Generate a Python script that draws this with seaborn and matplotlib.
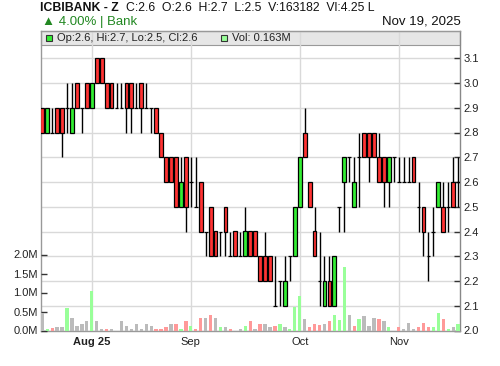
import numpy as np
import pandas as pd
import matplotlib
matplotlib.use("Agg")
import matplotlib.pyplot as plt
from matplotlib.patches import Rectangle
import seaborn as sns

# ---------------- data ----------------
opens = [2.9, 2.8, 2.8, 2.9, 2.9, 2.9, 2.8, 3.0, 2.9, 3.0,
         2.9, 3.1, 3.1, 3.0, 3.0, 2.9, 2.9, 3.0, 3.0, 2.9,
         3.0, 2.9, 2.9, 2.9, 2.8, 2.7, 2.7, 2.7, 2.5, 2.7,
         2.6, 2.5, 2.6, 2.4, 2.5, 2.4, 2.4, 2.5, 2.3, 2.4,
         2.3, 2.3, 2.4, 2.4, 2.3, 2.3, 2.3, 2.1, 2.2, 2.1,
         2.3, 2.3, 2.5, 2.8, 2.6, 2.4, 2.2, 2.1, 2.2, 2.1,
         2.5, 2.6, 2.7, 2.5, 2.7, 2.8, 2.8, 2.8, 2.7, 2.7,
         2.6, 2.7, 2.6, 2.6, 2.6, 2.7, 2.5, 2.5, 2.3, 2.4,
         2.5, 2.5, 2.5, 2.6, 2.6]
highs = [2.9, 2.9, 2.9, 2.9, 2.9, 3.0, 3.0, 3.0, 2.9, 3.0,
         3.0, 3.1, 3.1, 3.0, 3.0, 3.0, 3.0, 3.0, 3.0, 3.0,
         3.0, 3.0, 2.9, 2.9, 2.8, 2.7, 2.7, 2.7, 2.7, 2.7,
         2.7, 2.7, 2.6, 2.4, 2.5, 2.4, 2.4, 2.5, 2.4, 2.4,
         2.4, 2.5, 2.4, 2.4, 2.3, 2.4, 2.3, 2.3, 2.2, 2.3,
         2.3, 2.5, 2.7, 2.9, 2.6, 2.5, 2.4, 2.3, 2.3, 2.3,
         2.5, 2.7, 2.7, 2.7, 2.8, 2.8, 2.8, 2.8, 2.8, 2.7,
         2.7, 2.7, 2.7, 2.7, 2.7, 2.7, 2.6, 2.5, 2.4, 2.5,
         2.6, 2.6, 2.6, 2.7, 2.7]
lows = [2.8, 2.8, 2.8, 2.8, 2.7, 2.8, 2.8, 2.9, 2.8, 2.9,
        2.9, 3.0, 3.0, 2.9, 2.9, 2.9, 2.9, 2.8, 2.8, 2.9,
        2.8, 2.9, 2.8, 2.8, 2.7, 2.6, 2.6, 2.5, 2.5, 2.4,
        2.5, 2.5, 2.4, 2.3, 2.3, 2.3, 2.3, 2.3, 2.3, 2.3,
        2.3, 2.3, 2.3, 2.3, 2.2, 2.2, 2.2, 2.1, 2.1, 2.1,
        2.2, 2.3, 2.5, 2.7, 2.5, 2.3, 2.1, 2.1, 2.1, 2.1,
        2.4, 2.4, 2.6, 2.5, 2.5, 2.7, 2.6, 2.7, 2.6, 2.5,
        2.5, 2.6, 2.6, 2.6, 2.6, 2.6, 2.4, 2.3, 2.2, 2.3,
        2.5, 2.4, 2.4, 2.5, 2.5]
closes = [2.8, 2.9, 2.8, 2.8, 2.8, 2.9, 2.9, 2.9, 2.9, 2.9,
          3.0, 3.0, 3.0, 2.9, 2.9, 2.9, 2.9, 2.9, 2.9, 2.9,
          2.9, 2.9, 2.9, 2.8, 2.7, 2.6, 2.6, 2.5, 2.6, 2.5,
          2.6, 2.5, 2.4, 2.4, 2.3, 2.3, 2.4, 2.4, 2.3, 2.3,
          2.3, 2.4, 2.3, 2.3, 2.2, 2.2, 2.2, 2.1, 2.2, 2.2,
          2.3, 2.5, 2.7, 2.7, 2.5, 2.3, 2.2, 2.2, 2.1, 2.3,
          2.5, 2.7, 2.7, 2.6, 2.7, 2.7, 2.7, 2.7, 2.6, 2.6,
          2.7, 2.7, 2.6, 2.6, 2.6, 2.6, 2.5, 2.4, 2.3, 2.4,
          2.6, 2.4, 2.5, 2.5, 2.6]
volumes_m = [0.46, 0.03, 0.06, 0.08, 0.08, 0.60, 0.32, 0.13, 0.16, 0.26,
             1.05, 0.24, 0.05, 0.03, 0.03, 0.00, 0.24, 0.11, 0.03, 0.16,
             0.05, 0.18, 0.11, 0.03, 0.05, 0.08, 0.18, 0.16, 0.03, 0.26,
             0.11, 0.05, 0.34, 0.32, 0.40, 0.32, 0.08, 0.08, 0.05, 0.00,
             0.03, 0.13, 0.25, 0.035, 0.16, 0.18, 0.09, 0.13, 0.18, 0.08,
             0.035, 0.61, 0.90, 0.30, 0.09, 0.16, 0.14, 0.17, 0.25, 0.40,
             0.28, 1.67, 0.42, 0.13, 0.30, 0.39, 0.13, 0.32, 0.30, 0.25,
             0.10, 0.00, 0.10, 0.05, 0.21, 0.035, 0.10, 0.21, 0.08, 0.08,
             0.45, 0.30, 0.035, 0.08, 0.163]

month_tick_idx = [10, 30, 52, 72]
month_tick_labels = ["Aug 25", "Sep", "Oct", "Nov"]
price_ticks = [2.0, 2.1, 2.2, 2.3, 2.4, 2.5, 2.6, 2.7, 2.8, 2.9, 3.0, 3.1]
vol_ticks = [0.0, 0.5, 1.0, 1.5, 2.0]

symbol = "ICBIBANK - Z"
header_stats = "C:2.6  O:2.6  H:2.7  L:2.5  V:163182  Vl:4.25 L"
change_text = "\u25B2 4.00% | Bank"
date_text = "Nov 19, 2025"

# ---------------- style ----------------
sns.set_theme(style="white")
plt.rcParams["font.family"] = ["Liberation Sans", "DejaVu Sans"]

W, H = 500, 366
fig = plt.figure(figsize=(W / 100, H / 100), dpi=100)
fig.patch.set_facecolor("white")

L, R, T, B = 40.5, 460.5, 31.0, 330.5
ax_p = fig.add_axes([L / W, 1 - B / H, (R - L) / W, (B - T) / H])
ax_v = ax_p.twinx()

idx = np.arange(len(closes))
o = np.array(opens); c = np.array(closes)
hi = np.array(highs); lo = np.array(lows)

# volume colours from close vs previous close
dirs = ["flat"]
for i in range(1, len(c)):
    if c[i] > c[i - 1] + 1e-9:
        dirs.append("up")
    elif c[i] < c[i - 1] - 1e-9:
        dirs.append("down")
    else:
        dirs.append("flat")
vol_df = pd.DataFrame({"idx": idx, "vol": volumes_m, "dir": dirs})
sns.barplot(data=vol_df, x="idx", y="vol", hue="dir",
            palette={"up": "#99ff99", "down": "#ff9999", "flat": "#bbbbbb"},
            native_scale=True, dodge=False, width=0.67, errorbar=None,
            legend=False, saturation=1, linewidth=0, ax=ax_v)
ax_v.set_xlabel(""); ax_v.set_ylabel("")

# candles
ax_p.vlines(idx, lo, hi, color="black", lw=1.0, zorder=2)
body_col = ["#ff3333" if cc < oo else "#33ee33" for oo, cc in zip(o, c)]
ax_p.bar(idx, np.abs(c - o), bottom=np.minimum(o, c), width=0.77,
         color=body_col, edgecolor="black", linewidth=0.9, zorder=3)

# scales
ax_p.set_xlim(-0.36, 84.48)
ax_p.set_ylim(2.0, 2.0 + (B - T) / 247.5)
ax_v.set_ylim(0, (B - T) / 38.0)

ax_p.set_xticks(month_tick_idx)
ax_p.set_xticklabels(month_tick_labels)
ax_p.get_xticklabels()[0].set_fontweight("bold")
ax_p.set_yticks(price_ticks)
ax_p.set_yticklabels([f"{v:.1f}" for v in price_ticks])
ax_v.set_yticks(vol_ticks)
ax_v.set_yticklabels([f"{v:.1f}M" for v in vol_ticks])

ax_p.yaxis.tick_right()
ax_v.yaxis.tick_left()

ax_p.grid(True, color="#d9d9d9", lw=1.0)
ax_p.set_axisbelow(True)
ax_v.grid(False)

ax_p.tick_params(axis="y", direction="in", length=4, pad=2.2, labelsize=8,
                 labelcolor="#222222", color="#333333", width=1,
                 right=True, left=False, labelright=True, labelleft=False)
ax_v.tick_params(axis="y", direction="in", length=4, pad=1.8, labelsize=8,
                 labelcolor="#222222", color="#333333", width=1,
                 left=True, right=False, labelleft=True, labelright=False)
ax_p.tick_params(axis="x", direction="out", length=2.5, pad=2, labelsize=8,
                 labelcolor="#222222", color="#666666", width=1)

for s in ["left", "bottom", "top"]:
    ax_p.spines[s].set_color("#999999")
    ax_p.spines[s].set_linewidth(1)
ax_p.spines["right"].set_color("#888888")
ax_p.spines["right"].set_linewidth(1)
for s in ax_v.spines.values():
    s.set_visible(False)

# legend band
band_h = 13.5 / (B - T)
ax_p.add_patch(Rectangle((0, 1 - band_h), 1, band_h, transform=ax_p.transAxes,
                         facecolor="#e6e6e6", edgecolor="#999999", lw=0.8,
                         zorder=0.3, clip_on=False))

def fx(x):
    return x / W

def fy(y):
    return 1 - y / H

fig.patches.append(Rectangle((fx(45.7), fy(41.0)), 6.2 / W, 6.2 / H,
                             transform=fig.transFigure, facecolor="#33ee33",
                             edgecolor="#333333", lw=0.8))
fig.text(fx(56.7), fy(38.0),
         f"Op:{opens[-1]}, Hi:{highs[-1]}, Lo:{lows[-1]}, Cl:{closes[-1]}",
         fontsize=8, color="#222222", va="center", ha="left")
fig.patches.append(Rectangle((fx(220.8), fy(41.0)), 6.2 / W, 6.2 / H,
                             transform=fig.transFigure, facecolor="#99ff99",
                             edgecolor="#333333", lw=0.8))
fig.text(fx(232.3), fy(38.0), f"Vol: {volumes_m[-1]:.3f}M",
         fontsize=8, color="#222222", va="center", ha="left")

# header
fig.text(fx(40.5), fy(10.7), symbol, fontsize=8.8, fontweight="bold",
         color="#111111", va="baseline", ha="left")
fig.text(fx(126.5), fy(10.7), header_stats, fontsize=8.8,
         color="#111111", va="baseline", ha="left")
fig.text(fx(41.5), fy(25.0), change_text, fontsize=9.5,
         color="#228822", va="baseline", ha="left")
fig.text(fx(460.5), fy(25.0), date_text, fontsize=9.5,
         color="#111111", va="baseline", ha="right")

fig.savefig("out.png", dpi=100, facecolor="white")
